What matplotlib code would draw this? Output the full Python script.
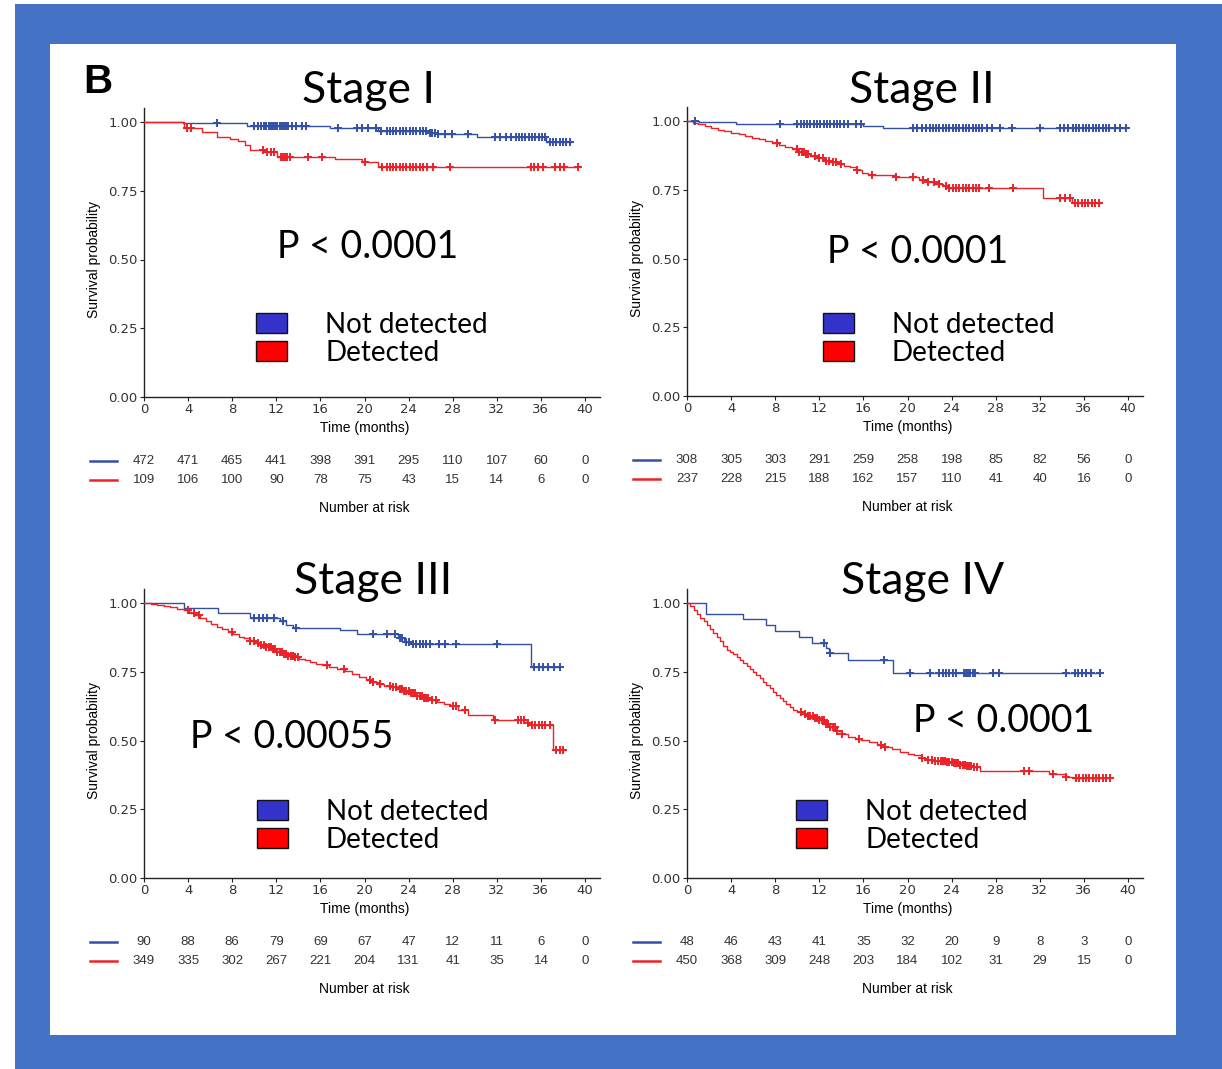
import numpy as np
import matplotlib
matplotlib.use("Agg")
import matplotlib.pyplot as plt
from matplotlib.patches import Rectangle
from matplotlib.lines import Line2D

# ---------------- data ----------------
stages = ["Stage I", "Stage II", "Stage III", "Stage IV"]
p_texts = ["P < 0.0001", "P < 0.0001", "P < 0.00055", "P < 0.0001"]
risk_times = [0, 4, 8, 12, 16, 20, 24, 28, 32, 36, 40]

# Stage I
s1_nd_t = [0, 3.5, 9.3, 16.9, 21.2, 25.9, 26.6, 30.2, 36.5, 38.7]
s1_nd_s = [1.0, 0.996, 0.987, 0.979, 0.968, 0.961, 0.957, 0.947, 0.927, 0.927]
s1_nd_c = [6.6, 10.0, 10.3, 10.6, 10.9, 11.1, 11.3, 11.5, 11.7, 11.9, 12.1, 12.3, 12.5, 12.7,
           12.9, 13.1, 13.4, 13.8, 14.3, 14.7, 17.6, 19.3, 19.8, 20.3, 21.0, 21.5, 22.0, 22.3,
           22.6, 22.9, 23.2, 23.5, 23.8, 24.1, 24.4, 24.7, 25.0, 25.3, 25.6, 25.9, 26.1, 26.4,
           26.7, 27.3, 27.9, 29.4, 31.8, 32.3, 32.8, 33.3, 33.7, 34.0, 34.3, 34.6, 34.9, 35.2,
           35.5, 35.8, 36.1, 36.4, 36.8, 37.1, 37.4, 37.7, 38.0, 38.3, 38.6]
s1_d_t = [0, 3.6, 5.3, 6.6, 7.8, 8.5, 9.2, 9.6, 10.9, 12.1, 17.3, 19.8, 21.2, 39.4]
s1_d_s = [1.0, 0.977, 0.962, 0.947, 0.940, 0.930, 0.915, 0.900, 0.892, 0.872, 0.866, 0.855, 0.838, 0.838]
s1_d_c = [3.9, 4.3, 10.8, 11.2, 11.5, 11.8, 12.4, 12.6, 12.8, 13.0, 13.2, 14.9, 16.1, 20.0, 21.6,
          22.0, 22.3, 22.6, 22.9, 23.2, 23.5, 23.8, 24.1, 24.4, 24.7, 25.0, 25.3, 25.7, 26.2,
          27.8, 35.1, 35.4, 35.7, 36.2, 37.3, 37.7, 38.1, 39.4]
s1_risk_nd = [472, 471, 465, 441, 398, 391, 295, 110, 107, 60, 0]
s1_risk_d = [109, 106, 100, 90, 78, 75, 43, 15, 14, 6, 0]

# Stage II
s2_nd_t = [0, 1.1, 4.4, 16.0, 17.8, 39.8]
s2_nd_s = [1.0, 0.995, 0.990, 0.983, 0.975, 0.975]
s2_nd_c = [0.7, 8.4, 10.0, 10.3, 10.6, 10.9, 11.2, 11.5, 11.8, 12.1, 12.4, 12.7, 13.0, 13.3, 13.6,
           13.9, 14.2, 14.6, 15.3, 15.8, 20.5, 20.9, 21.3, 21.7, 22.0, 22.3, 22.6, 22.9, 23.2,
           23.5, 23.8, 24.1, 24.4, 24.7, 25.0, 25.3, 25.6, 25.9, 26.2, 26.5, 26.8, 27.2, 27.7,
           28.4, 29.5, 32.0, 33.8, 34.2, 34.6, 35.0, 35.3, 35.6, 35.9, 36.2, 36.5, 36.8, 37.1,
           37.4, 37.7, 38.0, 38.3, 38.8, 39.3, 39.8]
s2_d_t = [0, 0.5, 1.0, 1.6, 2.2, 2.8, 3.4, 4.0, 4.7, 5.3, 5.9, 6.5, 7.1, 7.7, 8.3, 8.9, 9.5, 10.1,
          10.7, 11.2, 11.8, 12.4, 13.0, 13.6, 14.2, 14.8, 15.3, 15.9, 16.4, 18.9, 21.0, 21.8, 22.5,
          23.2, 23.8, 32.3, 34.9, 37.5]
s2_d_s = [1.0, 0.993, 0.988, 0.982, 0.976, 0.969, 0.963, 0.958, 0.951, 0.945, 0.939, 0.933, 0.926,
          0.919, 0.912, 0.905, 0.897, 0.889, 0.881, 0.873, 0.864, 0.855, 0.850, 0.845, 0.838, 0.831,
          0.823, 0.812, 0.804, 0.797, 0.787, 0.779, 0.771, 0.763, 0.758, 0.719, 0.703, 0.703]
s2_d_c = [8.2, 10.0, 10.2, 10.4, 10.6, 10.8, 11.0, 11.6, 12.0, 12.3, 12.6, 12.9, 13.2, 13.5, 14.0,
          15.4, 16.8, 19.0, 20.5, 21.4, 21.9, 22.4, 22.9, 23.5, 23.8, 24.1, 24.4, 24.7, 25.0, 25.3,
          25.6, 25.9, 26.2, 26.5, 27.4, 29.6, 33.8, 34.3, 34.7, 35.2, 35.5, 35.8, 36.1, 36.4, 36.7,
          37.0, 37.4]
s2_risk_nd = [308, 305, 303, 291, 259, 258, 198, 85, 82, 56, 0]
s2_risk_d = [237, 228, 215, 188, 162, 157, 110, 41, 40, 16, 0]

# Stage III
s3_nd_t = [0, 3.6, 6.7, 9.6, 12.3, 12.9, 13.5, 17.8, 19.3, 23.0, 23.6, 24.2, 35.1, 37.7]
s3_nd_s = [1.0, 0.981, 0.962, 0.946, 0.935, 0.920, 0.910, 0.902, 0.886, 0.872, 0.860, 0.850, 0.768, 0.768]
s3_nd_c = [10.0, 10.4, 10.8, 11.2, 11.8, 12.6, 13.8, 20.8, 22.0, 22.8, 23.2, 23.4, 23.8, 24.0, 24.4,
           24.7, 25.0, 25.3, 25.6, 25.9, 26.8, 27.3, 28.3, 32.0, 35.4, 35.8, 36.2, 36.6, 37.2, 37.7]
s3_d_t = [0, 0.6, 1.2, 1.8, 2.4, 3.0, 3.6, 4.1, 4.6, 5.1, 5.6, 6.1, 6.6, 7.1, 7.6, 8.1, 8.6, 9.1,
          9.6, 10.1, 10.6, 11.1, 11.6, 12.1, 12.6, 13.1, 13.6, 14.1, 14.6, 15.1, 15.6, 16.1, 16.8,
          17.5, 18.2, 18.9, 19.5, 20.1, 20.6, 21.2, 21.8, 22.4, 23.0, 23.6, 24.2, 24.8, 25.4, 26.0,
          26.6, 27.2, 27.8, 28.5, 29.4, 31.7, 34.7, 35.1, 37.1, 38.2]
s3_d_s = [1.0, 0.996, 0.992, 0.988, 0.984, 0.980, 0.975, 0.965, 0.955, 0.944, 0.934, 0.924, 0.914,
          0.904, 0.894, 0.886, 0.878, 0.871, 0.863, 0.856, 0.848, 0.840, 0.831, 0.823, 0.816, 0.809,
          0.802, 0.796, 0.791, 0.785, 0.780, 0.774, 0.767, 0.759, 0.751, 0.741, 0.731, 0.720, 0.711,
          0.705, 0.700, 0.695, 0.688, 0.680, 0.671, 0.663, 0.655, 0.648, 0.640, 0.634, 0.627, 0.611,
          0.593, 0.575, 0.565, 0.556, 0.465, 0.465]
s3_d_c = [4.0, 4.5, 5.0, 8.0, 9.6, 10.0, 10.3, 10.6, 10.9, 11.1, 11.3, 11.5, 11.7, 11.9, 12.1, 12.3,
          12.5, 12.7, 12.9, 13.1, 13.3, 13.5, 13.7, 14.0, 16.6, 18.1, 20.5, 20.8, 21.4, 22.3, 22.6,
          22.9, 23.2, 23.4, 23.6, 23.8, 24.0, 24.2, 24.4, 24.6, 24.8, 25.0, 25.2, 25.4, 25.6, 25.8,
          26.1, 26.5, 28.0, 28.3, 29.1, 31.8, 33.9, 34.2, 34.5, 34.8, 35.2, 35.5, 35.8, 36.1, 36.4,
          36.8, 37.4, 37.7, 38.0]
s3_risk_nd = [90, 88, 86, 79, 69, 67, 47, 12, 11, 6, 0]
s3_risk_d = [349, 335, 302, 267, 221, 204, 131, 41, 35, 14, 0]

# Stage IV
s4_nd_t = [0, 1.75, 5.1, 7.2, 7.95, 10.2, 11.3, 12.6, 12.9, 14.6, 18.7, 37.5]
s4_nd_s = [1.0, 0.959, 0.941, 0.920, 0.899, 0.878, 0.856, 0.835, 0.817, 0.793, 0.746, 0.746]
s4_nd_c = [12.4, 13.0, 17.9, 20.2, 22.0, 22.9, 23.2, 23.5, 23.8, 24.1, 24.4, 25.1, 25.3, 25.5, 25.7,
           25.9, 26.1, 27.8, 28.3, 34.4, 35.2, 35.5, 35.8, 36.2, 36.6, 37.5]
s4_d_t = [0, 0.3, 0.6, 0.9, 1.2, 1.5, 1.8, 2.1, 2.4, 2.7, 3.0, 3.3, 3.6, 3.9, 4.2, 4.5, 4.8, 5.1,
          5.4, 5.7, 6.0, 6.3, 6.6, 6.9, 7.2, 7.5, 7.8, 8.1, 8.4, 8.7, 9.0, 9.3, 9.6, 10.0, 10.5,
          11.0, 11.5, 12.0, 12.5, 13.0, 13.5, 14.0, 14.6, 15.2, 15.8, 16.5, 17.2, 17.9, 18.6, 19.3,
          20.0, 20.6, 21.2, 21.8, 22.4, 23.0, 23.6, 24.2, 24.8, 25.4, 26.0, 26.6, 32.8, 34.4, 35.0, 38.4]
s4_d_s = [1.0, 0.988, 0.975, 0.961, 0.947, 0.934, 0.920, 0.906, 0.892, 0.877, 0.861, 0.845, 0.830,
          0.822, 0.813, 0.803, 0.793, 0.783, 0.772, 0.761, 0.750, 0.738, 0.726, 0.714, 0.702, 0.690,
          0.678, 0.666, 0.653, 0.643, 0.632, 0.621, 0.611, 0.602, 0.595, 0.589, 0.582, 0.574, 0.561,
          0.548, 0.535, 0.522, 0.514, 0.507, 0.501, 0.493, 0.485, 0.476, 0.468, 0.460, 0.452, 0.446,
          0.438, 0.429, 0.427, 0.425, 0.422, 0.417, 0.412, 0.407, 0.402, 0.390, 0.377, 0.369, 0.362, 0.362]
s4_d_c = [10.3, 10.7, 11.0, 11.2, 11.4, 11.6, 11.8, 12.0, 12.2, 12.4, 12.6, 12.8, 13.0, 13.2, 13.4,
          13.6, 14.1, 15.6, 17.6, 18.0, 21.3, 21.9, 22.2, 22.5, 22.8, 23.0, 23.2, 23.4, 23.6, 23.8,
          24.0, 24.2, 24.4, 24.6, 24.8, 25.0, 25.2, 25.4, 25.6, 25.8, 26.0, 26.3, 30.6, 31.0, 33.2,
          34.4, 35.3, 35.6, 35.9, 36.2, 36.5, 36.8, 37.1, 37.4, 37.7, 38.0, 38.4]
s4_risk_nd = [48, 46, 43, 41, 35, 32, 20, 9, 8, 3, 0]
s4_risk_d = [450, 368, 309, 248, 203, 184, 102, 31, 29, 15, 0]

curves = [
    (s1_nd_t, s1_nd_s, s1_nd_c, s1_d_t, s1_d_s, s1_d_c, s1_risk_nd, s1_risk_d),
    (s2_nd_t, s2_nd_s, s2_nd_c, s2_d_t, s2_d_s, s2_d_c, s2_risk_nd, s2_risk_d),
    (s3_nd_t, s3_nd_s, s3_nd_c, s3_d_t, s3_d_s, s3_d_c, s3_risk_nd, s3_risk_d),
    (s4_nd_t, s4_nd_s, s4_nd_c, s4_d_t, s4_d_s, s4_d_c, s4_risk_nd, s4_risk_d),
]

# ---------------- layout (pixels) ----------------
W, H = 1222, 1069
BLUE_LINE = "#3450A6"
RED_LINE = "#EC2228"
BLUE_FILL = "#3333CC"
RED_FILL = "#FF0000"
TXT = "#333333"

panel_pos = [(144, 397), (687, 396), (144, 878), (687, 878)]
title_pos = [(368, 103), (922, 103), (373, 594), (923, 594)]
p_pos = [(368, 258), (918, 263), (292, 748), (1004, 732)]
leg_pos = [(256, 313), (823, 313), (257, 800), (796, 800)]
PX_PER_MONTH = 11.025
PX_PER_UNIT = 275.0
XMAX, YMAX = 41.4, 1.05

fig = plt.figure(figsize=(W / 100, H / 100), dpi=100)
fig.patch.set_facecolor("white")


def fx(x):
    return x / W


def fy(y):
    return 1 - y / H


fig.add_artist(Rectangle((fx(15), 0), 1 - fx(15), fy(4), transform=fig.transFigure,
                         facecolor="#4472C4", edgecolor="none", zorder=-10))
fig.add_artist(Rectangle((fx(50), fy(1035)), fx(1176) - fx(50), fy(44) - fy(1035),
                         transform=fig.transFigure, facecolor="white", edgecolor="none", zorder=-9))

fig.text(fx(83), fy(93), "B", fontsize=29, fontweight="bold", family="Liberation Sans",
         ha="left", va="baseline", color="black")


def step_value(t, s, c):
    t = np.asarray(t)
    s = np.asarray(s)
    idx = np.searchsorted(t, np.asarray(c), side="right") - 1
    return s[idx]


for i, (lp, bp) in enumerate(panel_pos):
    wpx = XMAX * PX_PER_MONTH
    hpx = YMAX * PX_PER_UNIT
    ax = fig.add_axes([fx(lp), fy(bp), wpx / W, hpx / H])
    ax.set_xlim(0, XMAX)
    ax.set_ylim(0, YMAX)
    for sp in ["top", "right"]:
        ax.spines[sp].set_visible(False)
    for sp in ["left", "bottom"]:
        ax.spines[sp].set_linewidth(1.0)
        ax.spines[sp].set_color("#222222")
    ax.set_xticks(risk_times)
    ax.set_yticks([0, 0.25, 0.5, 0.75, 1.0])
    ax.set_yticklabels(["0.00", "0.25", "0.50", "0.75", "1.00"])
    ax.tick_params(axis="both", length=3, width=0.8, pad=1.5, labelsize=9.5,
                   labelcolor=TXT, color="#222222")
    ax.patch.set_alpha(0)

    ndt, nds, ndc, dt, ds, dc, rnd, rd = curves[i]
    ax.step(ndt, nds, where="post", color=BLUE_LINE, lw=1.0, zorder=3)
    ax.plot(ndc, step_value(ndt, nds, ndc), ls="none", marker="+", ms=6, mew=1.4,
            color=BLUE_LINE, zorder=4)
    ax.step(dt, ds, where="post", color=RED_LINE, lw=1.0, zorder=3)
    ax.plot(dc, step_value(dt, ds, dc), ls="none", marker="+", ms=6, mew=1.4,
            color=RED_LINE, zorder=4)

    def yfrac(ypx):
        return (bp - ypx) / hpx

    xt = ax.get_xaxis_transform()
    ax.text(20, yfrac(bp + 31), "Time (months)", transform=xt, ha="center", va="center",
            fontsize=10, color="black", family="Liberation Sans")
    ax.text(-50 / wpx, 0.5 / YMAX, "Survival probability", transform=ax.transAxes,
            rotation=90, ha="center", va="center", fontsize=10, color="black",
            family="Liberation Sans")
    for tt, a, b in zip(risk_times, rnd, rd):
        ax.text(tt, yfrac(bp + 64), str(a), transform=xt, ha="center", va="center",
                fontsize=9.5, color=TXT, family="Liberation Sans")
        ax.text(tt, yfrac(bp + 83), str(b), transform=xt, ha="center", va="center",
                fontsize=9.5, color=TXT, family="Liberation Sans")
    ax.text(20, yfrac(bp + 111), "Number at risk", transform=xt, ha="center", va="center",
            fontsize=10, color="black", family="Liberation Sans")
    fig.add_artist(Line2D([fx(lp - 54), fx(lp - 27)], [fy(bp + 64), fy(bp + 64)],
                          transform=fig.transFigure, color=BLUE_LINE, lw=1.8))
    fig.add_artist(Line2D([fx(lp - 54), fx(lp - 27)], [fy(bp + 83), fy(bp + 83)],
                          transform=fig.transFigure, color=RED_LINE, lw=1.8))

    tx, ty = title_pos[i]
    fig.text(fx(tx), fy(ty), stages[i], fontsize=32, family="Lato", ha="center",
             va="baseline", color="black")
    px_, py_ = p_pos[i]
    fig.text(fx(px_), fy(py_), p_texts[i], fontsize=27, family="Lato", ha="center",
             va="baseline", color="black")

    lx, ly = leg_pos[i]
    fig.add_artist(Rectangle((fx(lx), fy(ly + 20)), 31 / W, 20 / H, transform=fig.transFigure,
                             facecolor=BLUE_FILL, edgecolor="#111111", lw=1.0))
    fig.add_artist(Rectangle((fx(lx), fy(ly + 48)), 31 / W, 20 / H, transform=fig.transFigure,
                             facecolor=RED_FILL, edgecolor="#111111", lw=1.0))
    fig.text(fx(lx + 69), fy(ly + 20), "Not detected", fontsize=20, family="Lato",
             ha="left", va="baseline", color="black")
    fig.text(fx(lx + 69), fy(ly + 48), "Detected", fontsize=20, family="Lato",
             ha="left", va="baseline", color="black")

fig.savefig("out.png", dpi=100, facecolor="white")
